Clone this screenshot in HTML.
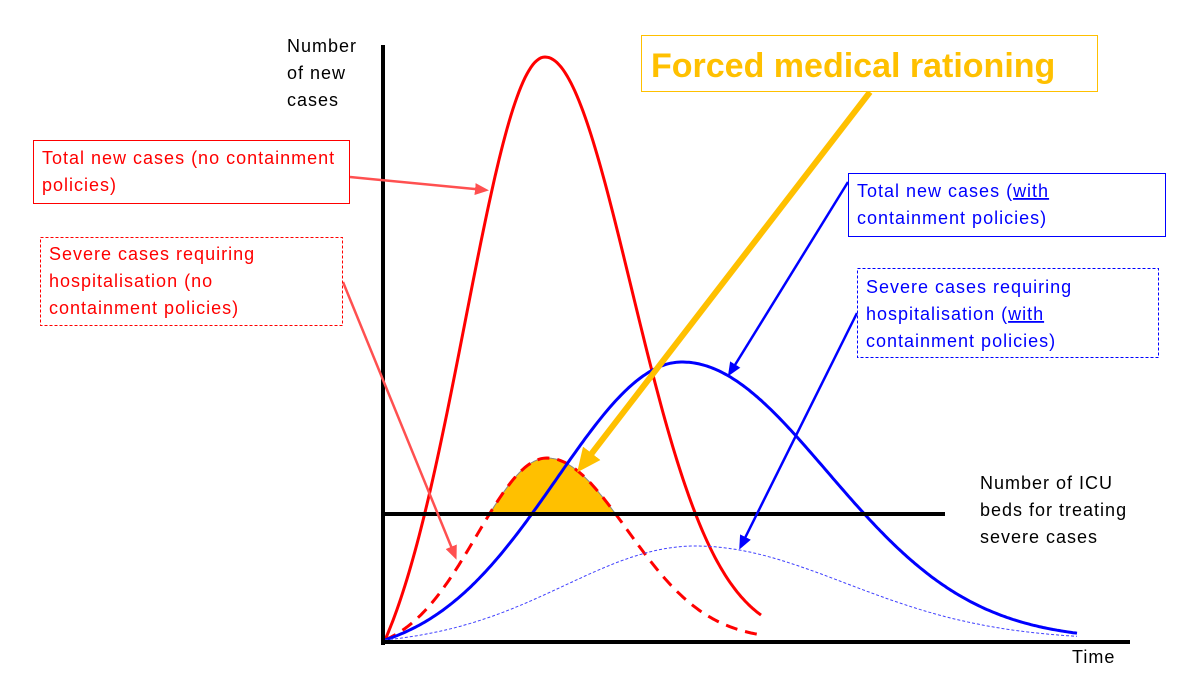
<!DOCTYPE html>
<html><head><meta charset="utf-8"><style>
html,body{margin:0;padding:0;background:#fff;}
svg{display:block;font-family:"Liberation Sans",sans-serif;}
.t{font-size:18px;letter-spacing:1px;}
</style></head><body>
<svg id="s" width="1200" height="675" viewBox="0 0 1200 675" xmlns="http://www.w3.org/2000/svg">
<defs>
<marker id="mr" markerWidth="14" markerHeight="12" refX="10" refY="6" orient="auto" markerUnits="userSpaceOnUse"><path d="M0,0 L14,6 L0,12 z" fill="#FF5050"/></marker>
<marker id="mb" markerWidth="14" markerHeight="12" refX="10" refY="6" orient="auto" markerUnits="userSpaceOnUse"><path d="M0,0 L14,6 L0,12 z" fill="#0000FF"/></marker>
<marker id="my" markerWidth="24" markerHeight="22" refX="16" refY="11" orient="auto" markerUnits="userSpaceOnUse"><path d="M0,0 L24,11 L0,22 z" fill="#FFC000"/></marker>
</defs>
<path id="fill" fill="#FFC000" stroke="#888" stroke-width="1"/>
<g id="curves"></g>
<line x1="383" y1="514" x2="945" y2="514" stroke="#000" stroke-width="4"/>
<line x1="383" y1="45" x2="383" y2="645" stroke="#000" stroke-width="4"/>
<line x1="381" y1="642" x2="1130" y2="642" stroke="#000" stroke-width="4"/>

<line x1="350" y1="177" x2="485" y2="190" stroke="#FF5050" stroke-width="2.5" marker-end="url(#mr)"/>
<line x1="343" y1="282" x2="455" y2="556" stroke="#FF5050" stroke-width="2.5" marker-end="url(#mr)"/>
<line x1="870" y1="92" x2="582" y2="466" stroke="#FFC000" stroke-width="6" marker-end="url(#my)"/>
<line x1="848" y1="182" x2="730" y2="373" stroke="#0000FF" stroke-width="2.5" marker-end="url(#mb)"/>
<line x1="857" y1="313" x2="741" y2="546" stroke="#0000FF" stroke-width="2.5" marker-end="url(#mb)"/>

<rect x="33.5" y="140.5" width="316" height="63" fill="#fff" stroke="#FF0000" stroke-width="1"/>
<text class="t" x="42" y="164" fill="#FF0000">Total new cases (no containment</text>
<text class="t" x="42" y="191" fill="#FF0000">policies)</text>
<rect x="40.5" y="237.5" width="302" height="88" fill="#fff" stroke="#FF0000" stroke-width="1" stroke-dasharray="3,2"/>
<text class="t" x="49" y="260" fill="#FF0000">Severe cases requiring</text>
<text class="t" x="49" y="287" fill="#FF0000">hospitalisation (no</text>
<text class="t" x="49" y="314" fill="#FF0000">containment policies)</text>

<rect x="848.5" y="173.5" width="317" height="63" fill="#fff" stroke="#0000FF" stroke-width="1"/>
<text class="t" x="857" y="197" fill="#0000FF">Total new cases (<tspan text-decoration="underline">with</tspan></text>
<text class="t" x="857" y="224" fill="#0000FF">containment policies)</text>
<rect x="857.5" y="268.5" width="301" height="89" fill="#fff" stroke="#0000FF" stroke-width="1" stroke-dasharray="3,2"/>
<text class="t" x="866" y="293" fill="#0000FF">Severe cases requiring</text>
<text class="t" x="866" y="320" fill="#0000FF">hospitalisation (<tspan text-decoration="underline">with</tspan></text>
<text class="t" x="866" y="347" fill="#0000FF">containment policies)</text>

<rect x="641.5" y="35.5" width="456" height="56" fill="#fff" stroke="#FFC000" stroke-width="1"/>
<text x="651" y="77" font-size="34" font-weight="bold" fill="#FFC000">Forced medical rationing</text>

<text class="t" x="287" y="52" fill="#000">Number</text>
<text class="t" x="287" y="79" fill="#000">of new</text>
<text class="t" x="287" y="106" fill="#000">cases</text>
<text class="t" x="980" y="489" fill="#000">Number of ICU</text>
<text class="t" x="980" y="516" fill="#000">beds for treating</text>
<text class="t" x="980" y="543" fill="#000">severe cases</text>
<text class="t" x="1072" y="663" fill="#000">Time</text>
</svg>
<script>
function curve(x0,x1,peakX,peakY,base,sl,sr){
  var H=base-peakY, e0=Math.exp(-Math.pow(peakX-x0,2)/(2*sl*sl));
  return function(x){
    var d=x-peakX,g;
    if(d<0){var f=Math.exp(-d*d/(2*sl*sl));g=(f-e0)/(1-e0);}
    else g=Math.exp(-d*d/(2*sr*sr));
    return base-H*g;
  };
}
function path(fn,x0,x1){var p=[];for(var x=x0;x<=x1;x+=2)p.push((p.length?'L':'M')+x+','+fn(x).toFixed(1));return p.join(' ');}
var specs=[
 {fn:curve(385,762,545,57,640,80,86),x0:385,x1:762,c:'#FF0000',w:3,da:''},
 {fn:curve(385,762,547,458,640,70,80),x0:385,x1:762,c:'#FF0000',w:3,da:'12,8'},
 {fn:curve(385,1078,682,362,640,125,145),x0:385,x1:1078,c:'#0000FF',w:3,da:''},
 {fn:curve(385,1078,695,546,640,130,150),x0:385,x1:1078,c:'#4040FF',w:1,da:'3,2'}
];
var g=document.getElementById('curves'),ns='http://www.w3.org/2000/svg';
specs.forEach(function(s){var e=document.createElementNS(ns,'path');e.setAttribute('d',path(s.fn,s.x0,s.x1));e.setAttribute('fill','none');e.setAttribute('stroke',s.c);e.setAttribute('stroke-width',s.w);if(s.da)e.setAttribute('stroke-dasharray',s.da);g.appendChild(e);});
var fd=specs[1].fn,pts=[];
for(var x=470;x<=640;x++){var y=fd(x);if(y<=514)pts.push(x+','+y.toFixed(1));}
document.getElementById('fill').setAttribute('d','M'+pts.join(' L')+' Z');
</script>
</body></html>
